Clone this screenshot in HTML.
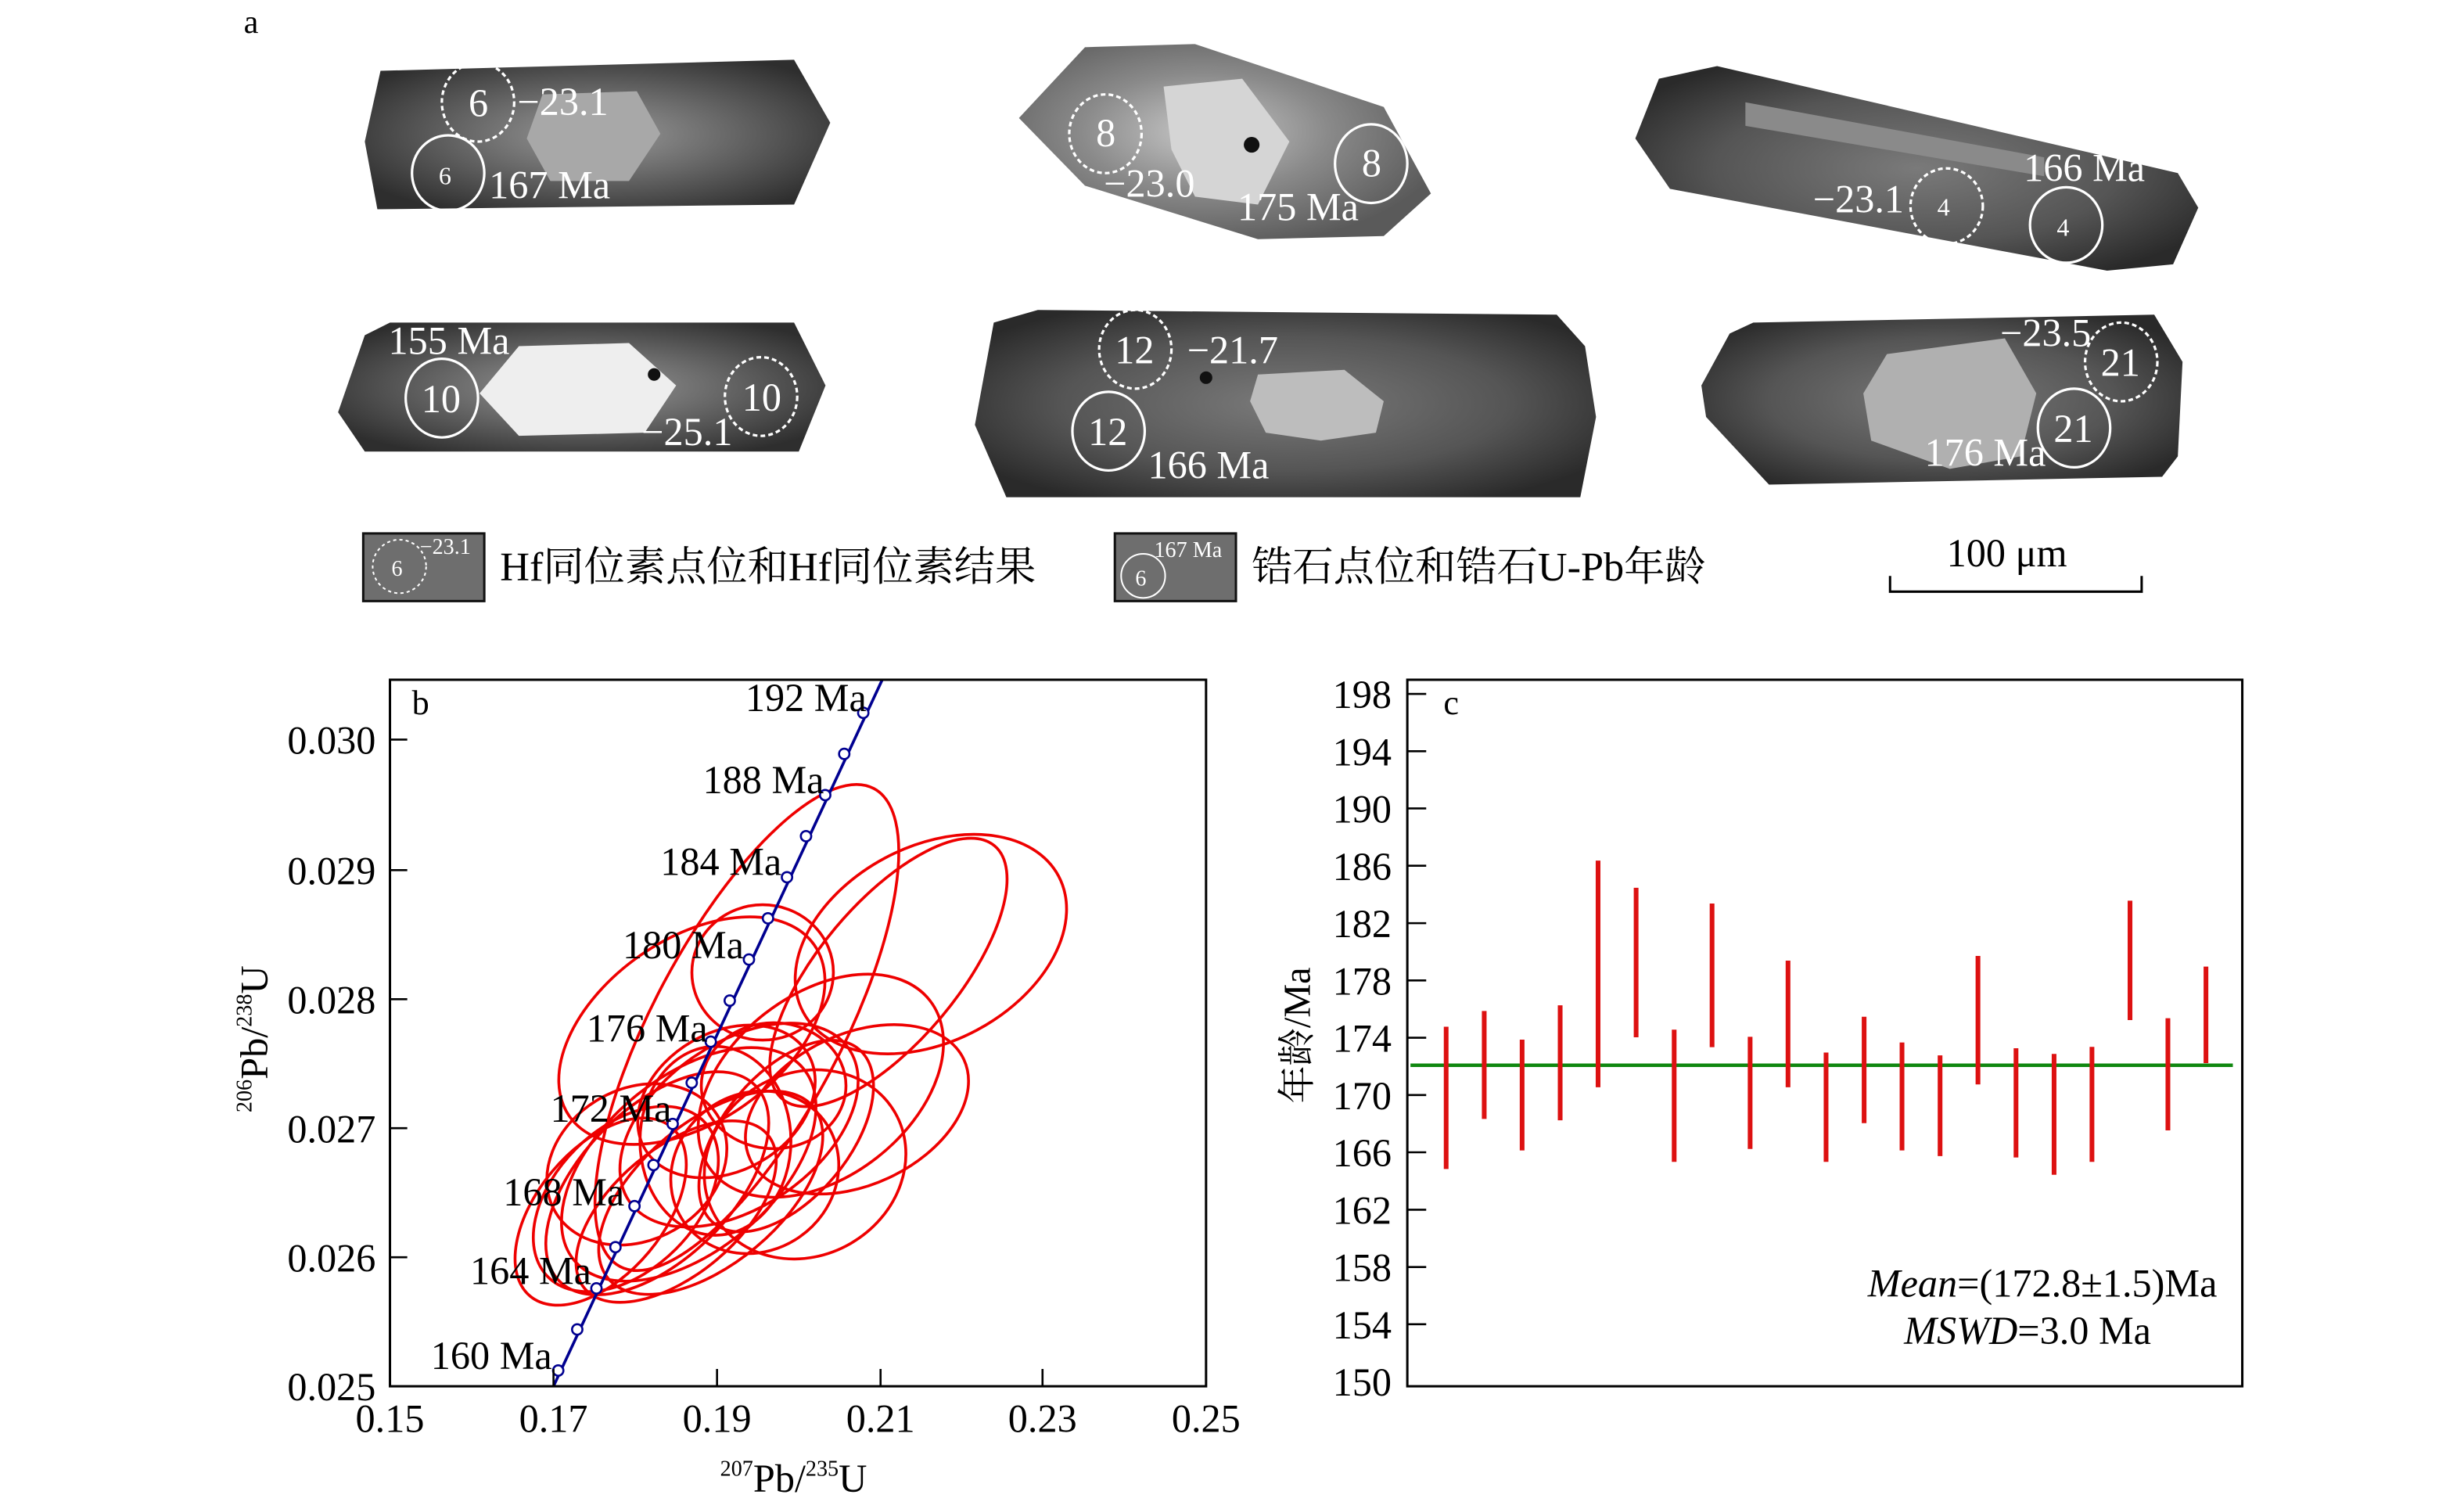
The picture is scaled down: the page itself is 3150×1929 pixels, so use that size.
<!DOCTYPE html>
<html><head><meta charset="utf-8"><style>
html,body{margin:0;padding:0;background:#fff;}
svg{display:block;}
text{font-family:"Liberation Serif","Noto Serif CJK SC","Noto Sans CJK SC",serif;}
</style></head><body>
<svg width="3150" height="1929" viewBox="0 0 1567 959" preserveAspectRatio="none" xmlns="http://www.w3.org/2000/svg">
<defs>
<radialGradient id="g1" cx="50%" cy="50%" r="60%"><stop offset="0" stop-color="#9a9a9a"/><stop offset="0.45" stop-color="#6a6a6a"/><stop offset="1" stop-color="#2e2e2e"/></radialGradient>
<radialGradient id="g2" cx="45%" cy="45%" r="60%"><stop offset="0" stop-color="#c8c8c8"/><stop offset="0.5" stop-color="#8a8a8a"/><stop offset="1" stop-color="#5a5a5a"/></radialGradient>
<radialGradient id="g3" cx="50%" cy="50%" r="60%"><stop offset="0" stop-color="#7a7a7a"/><stop offset="0.6" stop-color="#555"/><stop offset="1" stop-color="#2a2a2a"/></radialGradient>
</defs>

<text x="155" y="21" font-size="21">a</text>

<polygon points="242,45 505,38 528,78 505,130 240,133 232,90" fill="url(#g1)"/>
<polygon points="345,60 405,58 420,85 400,115 350,115 335,88" fill="#a8a8a8"/>
<polygon points="648,75 690,30 760,28 880,68 910,123 880,150 800,152 690,118" fill="url(#g2)"/>
<polygon points="740,55 790,50 820,90 800,130 760,125 745,95" fill="#d5d5d5"/>
<circle cx="796" cy="92" r="5" fill="#111"/>
<polygon points="1055,50 1092,42 1385,110 1398,132 1382,168 1340,172 1062,120 1040,88" fill="url(#g3)"/>
<polygon points="1110,65 1300,100 1300,112 1110,80" fill="#8a8a8a"/>
<polygon points="232,213 248,205 505,205 525,245 508,287 232,287 215,262" fill="url(#g1)"/>
<polygon points="330,220 400,218 430,245 410,275 330,277 305,250" fill="#eeeeee"/>
<circle cx="416" cy="238" r="4" fill="#111"/>
<polygon points="632,205 660,197 990,200 1008,220 1015,265 1005,316 640,316 620,270" fill="url(#g3)"/>
<polygon points="800,238 855,235 880,255 875,275 840,280 805,275 795,255" fill="#bdbdbd"/>
<circle cx="767" cy="240" r="4" fill="#111"/>
<polygon points="1100,212 1115,205 1370,200 1388,230 1385,290 1375,303 1125,308 1085,265 1082,245" fill="url(#g3)"/>
<polygon points="1200,225 1275,215 1295,250 1285,290 1240,298 1190,280 1185,250" fill="#b0b0b0"/>

<g fill="none" stroke="#fff" stroke-width="1.6">
<ellipse cx="304" cy="65" rx="23" ry="25" stroke-dasharray="3,2"/>
<ellipse cx="285" cy="110" rx="23" ry="24"/>
<ellipse cx="703" cy="85" rx="23" ry="25" stroke-dasharray="3,2"/>
<ellipse cx="872" cy="104" rx="23" ry="25"/>
<ellipse cx="1238" cy="131" rx="23" ry="24" stroke-dasharray="3,2"/>
<ellipse cx="1314" cy="143" rx="23" ry="24"/>
<ellipse cx="281" cy="253" rx="23" ry="25"/>
<ellipse cx="484" cy="252" rx="23" ry="25" stroke-dasharray="3,2"/>
<ellipse cx="722" cy="222" rx="23" ry="25" stroke-dasharray="3,2"/>
<ellipse cx="705" cy="274" rx="23" ry="25"/>
<ellipse cx="1349" cy="230" rx="23" ry="25" stroke-dasharray="3,2"/>
<ellipse cx="1319" cy="272" rx="23" ry="25"/>
</g>
<g fill="#fff" font-size="25">
<text x="298" y="74">6</text><text x="329" y="73">−23.1</text>
<text x="279" y="117" font-size="16">6</text><text x="311" y="126">167 Ma</text>
<text x="697" y="93">8</text><text x="702" y="125">−23.0</text>
<text x="866" y="112">8</text><text x="787" y="140">175 Ma</text>
<text x="1232" y="137" font-size="16">4</text><text x="1153" y="135">−23.1</text>
<text x="1308" y="150" font-size="16">4</text><text x="1287" y="115">166 Ma</text>
<text x="247" y="225">155 Ma</text><text x="268" y="262">10</text>
<text x="472" y="261">10</text><text x="408" y="283">−25.1</text>
<text x="709" y="231">12</text><text x="755" y="231">−21.7</text>
<text x="692" y="283">12</text><text x="730" y="304">166 Ma</text>
<text x="1336" y="239">21</text><text x="1272" y="220">−23.5</text>
<text x="1306" y="281">21</text><text x="1224" y="296">176 Ma</text>
</g>

<rect x="231" y="339" width="77" height="43" fill="#6e6e6e" stroke="#111" stroke-width="1.5"/>
<circle cx="254" cy="360" r="17" fill="none" stroke="#fff" stroke-width="1" stroke-dasharray="2,2"/>
<text x="249" y="366" fill="#fff" font-size="14">6</text>
<text x="267" y="352" fill="#fff" font-size="14">−23.1</text>
<text x="318" y="369" font-size="26">Hf同位素点位和Hf同位素结果</text>
<rect x="709" y="339" width="77" height="43" fill="#6e6e6e" stroke="#111" stroke-width="1.5"/>
<circle cx="727" cy="366" r="14" fill="none" stroke="#fff" stroke-width="1"/>
<text x="722" y="372" fill="#fff" font-size="14">6</text>
<text x="734" y="354" fill="#fff" font-size="14">167 Ma</text>
<text x="796" y="369" font-size="26">锆石点位和锆石U-Pb年龄</text>
<text x="1238" y="360" font-size="25">100 μm</text>
<path d="M1202,366 V376 H1362 V366" fill="none" stroke="#000" stroke-width="1.5"/>

<g>
<clipPath id="cb"><rect x="248" y="432" width="519" height="449"/></clipPath>
<g clip-path="url(#cb)" fill="none" stroke="#ee0000" stroke-width="1.8">
<ellipse cx="475" cy="653" rx="172" ry="60" transform="rotate(-62 475 653)"/>
<ellipse cx="592" cy="600" rx="92" ry="62" transform="rotate(-28 592 600)"/>
<ellipse cx="565" cy="618" rx="105" ry="44" transform="rotate(-50 565 618)"/>
<ellipse cx="522" cy="690" rx="88" ry="58" transform="rotate(-38 522 690)"/>
<ellipse cx="440" cy="655" rx="95" ry="58" transform="rotate(-35 440 655)"/>
<ellipse cx="485" cy="618" rx="45" ry="43"/>
<ellipse cx="545" cy="705" rx="75" ry="48" transform="rotate(-25 545 705)"/>
<ellipse cx="470" cy="715" rx="85" ry="52" transform="rotate(-35 470 715)"/>
<ellipse cx="438" cy="740" rx="95" ry="55" transform="rotate(-40 438 740)"/>
<ellipse cx="418" cy="752" rx="88" ry="48" transform="rotate(-45 418 752)"/>
<ellipse cx="452" cy="758" rx="85" ry="45" transform="rotate(-40 452 758)"/>
<ellipse cx="398" cy="762" rx="70" ry="45" transform="rotate(-45 398 762)"/>
<ellipse cx="462" cy="700" rx="60" ry="44" transform="rotate(-30 462 700)"/>
<ellipse cx="500" cy="722" rx="72" ry="40" transform="rotate(-50 500 722)"/>
<ellipse cx="430" cy="770" rx="76" ry="40" transform="rotate(-40 430 770)"/>
<ellipse cx="512" cy="740" rx="66" ry="58" transform="rotate(-30 512 740)"/>
<ellipse cx="382" cy="770" rx="70" ry="40" transform="rotate(-50 382 770)"/>
<ellipse cx="492" cy="690" rx="46" ry="40"/>
<ellipse cx="405" cy="740" rx="60" ry="48" transform="rotate(-30 405 740)"/>
<ellipse cx="480" cy="745" rx="55" ry="50" transform="rotate(-35 480 745)"/>
<ellipse cx="455" cy="725" rx="48" ry="60"/>
</g>
<line x1="352" y1="881" x2="562" y2="430" stroke="#000090" stroke-width="1.8" clip-path="url(#cb)"/>
<g fill="#fff" stroke="#000090" stroke-width="1.3">
<circle cx="355" cy="871" r="3.3"/><circle cx="367.1" cy="844.9" r="3.3"/><circle cx="379.3" cy="818.8" r="3.3"/><circle cx="391.4" cy="792.6" r="3.3"/><circle cx="403.5" cy="766.5" r="3.3"/><circle cx="415.6" cy="740.4" r="3.3"/><circle cx="427.8" cy="714.3" r="3.3"/><circle cx="439.9" cy="688.1" r="3.3"/><circle cx="452" cy="662" r="3.3"/><circle cx="464.1" cy="635.9" r="3.3"/><circle cx="476.3" cy="609.8" r="3.3"/><circle cx="488.4" cy="583.6" r="3.3"/><circle cx="500.5" cy="557.5" r="3.3"/><circle cx="512.6" cy="531.4" r="3.3"/><circle cx="524.8" cy="505.3" r="3.3"/><circle cx="536.9" cy="479.1" r="3.3"/><circle cx="549" cy="453" r="3.3"/>
</g>
<g font-size="25">
<text x="274" y="870">160 Ma</text><text x="299" y="816">164 Ma</text><text x="320" y="766">168 Ma</text><text x="350" y="713">172 Ma</text><text x="373" y="662">176 Ma</text><text x="396" y="609">180 Ma</text><text x="420" y="556">184 Ma</text><text x="447" y="504">188 Ma</text><text x="474" y="452">192 Ma</text>
</g>
<rect x="248" y="432" width="519" height="449" fill="none" stroke="#000" stroke-width="1.5"/>
<g stroke="#000" stroke-width="1.3">
<line x1="248" y1="470" x2="259" y2="470"/><line x1="248" y1="553" x2="259" y2="553"/><line x1="248" y1="635" x2="259" y2="635"/><line x1="248" y1="717" x2="259" y2="717"/><line x1="248" y1="799" x2="259" y2="799"/>
<line x1="352" y1="881" x2="352" y2="870"/><line x1="456" y1="881" x2="456" y2="870"/><line x1="560" y1="881" x2="560" y2="870"/><line x1="663" y1="881" x2="663" y2="870"/>
</g>
<g font-size="25" text-anchor="end">
<text x="239" y="479">0.030</text><text x="239" y="562">0.029</text><text x="239" y="644">0.028</text><text x="239" y="726">0.027</text><text x="239" y="808">0.026</text><text x="239" y="890">0.025</text>
</g>
<g font-size="25" text-anchor="middle">
<text x="248" y="910">0.15</text><text x="352" y="910">0.17</text><text x="456" y="910">0.19</text><text x="560" y="910">0.21</text><text x="663" y="910">0.23</text><text x="767" y="910">0.25</text>
</g>
<text x="262" y="454" font-size="22">b</text>
<text x="458" y="948" font-size="25"><tspan font-size="14" dy="-10">207</tspan><tspan dy="10">Pb/</tspan><tspan font-size="14" dy="-10">235</tspan><tspan dy="10">U</tspan></text>
<text transform="translate(170,707) rotate(-90)" font-size="25"><tspan font-size="14" dy="-10">206</tspan><tspan dy="10">Pb/</tspan><tspan font-size="14" dy="-10">238</tspan><tspan dy="10">U</tspan></text>
</g>

<g>
<rect x="895" y="432" width="531" height="449" fill="none" stroke="#000" stroke-width="1.5"/>
<g stroke="#000" stroke-width="1.3">
<line x1="895" y1="441" x2="907" y2="441"/><line x1="895" y1="477.4" x2="907" y2="477.4"/><line x1="895" y1="513.8" x2="907" y2="513.8"/><line x1="895" y1="550.2" x2="907" y2="550.2"/><line x1="895" y1="586.7" x2="907" y2="586.7"/><line x1="895" y1="623.1" x2="907" y2="623.1"/><line x1="895" y1="659.5" x2="907" y2="659.5"/><line x1="895" y1="695.9" x2="907" y2="695.9"/><line x1="895" y1="732.3" x2="907" y2="732.3"/><line x1="895" y1="768.8" x2="907" y2="768.8"/><line x1="895" y1="805.2" x2="907" y2="805.2"/><line x1="895" y1="841.6" x2="907" y2="841.6"/>
</g>
<g font-size="25" text-anchor="end">
<text x="885" y="450">198</text><text x="885" y="486.4">194</text><text x="885" y="522.8">190</text><text x="885" y="559.2">186</text><text x="885" y="595.7">182</text><text x="885" y="632.1">178</text><text x="885" y="668.5">174</text><text x="885" y="704.9">170</text><text x="885" y="741.3">166</text><text x="885" y="777.8">162</text><text x="885" y="814.2">158</text><text x="885" y="850.6">154</text><text x="885" y="887">150</text>
</g>
<text x="918" y="454" font-size="22">c</text>
<text transform="translate(833,658) rotate(-90)" font-size="24" text-anchor="middle" font-family="'Noto Sans CJK SC','Liberation Sans',sans-serif">年龄/Ma</text>
<line x1="897" y1="677" x2="1420" y2="677" stroke="#118811" stroke-width="2.2"/>
<g stroke="#dd1111" stroke-width="3" stroke-linecap="square">
<line x1="919.7" y1="654" x2="919.7" y2="741.4"/>
<line x1="943.9" y1="644" x2="943.9" y2="709.6"/>
<line x1="968" y1="662.2" x2="968" y2="729.6"/>
<line x1="992.2" y1="640.4" x2="992.2" y2="710.5"/>
<line x1="1016.3" y1="548.4" x2="1016.3" y2="689.5"/>
<line x1="1040.5" y1="565.7" x2="1040.5" y2="657.7"/>
<line x1="1064.7" y1="655.9" x2="1064.7" y2="736.9"/>
<line x1="1088.8" y1="575.7" x2="1088.8" y2="664"/>
<line x1="1113" y1="660.4" x2="1113" y2="728.7"/>
<line x1="1137.1" y1="612" x2="1137.1" y2="689.5"/>
<line x1="1161.3" y1="670.4" x2="1161.3" y2="736.9"/>
<line x1="1185.5" y1="647.7" x2="1185.5" y2="712.3"/>
<line x1="1209.6" y1="664" x2="1209.6" y2="729.6"/>
<line x1="1233.8" y1="672.2" x2="1233.8" y2="733.2"/>
<line x1="1257.9" y1="609" x2="1257.9" y2="687.7"/>
<line x1="1282.1" y1="667.7" x2="1282.1" y2="734.1"/>
<line x1="1306.3" y1="671.3" x2="1306.3" y2="745.1"/>
<line x1="1330.4" y1="666.8" x2="1330.4" y2="736.9"/>
<line x1="1354.6" y1="573.9" x2="1354.6" y2="646.8"/>
<line x1="1378.7" y1="648.6" x2="1378.7" y2="716.9"/>
<line x1="1402.9" y1="615.8" x2="1402.9" y2="674.1"/>
</g>
<text x="1410" y="824" font-size="25" text-anchor="end"><tspan font-style="italic">Mean</tspan>=(172.8±1.5)Ma</text>
<text x="1368" y="854" font-size="25" text-anchor="end"><tspan font-style="italic">MSWD</tspan>=3.0 Ma</text>
</g>
</svg>
</body></html>
